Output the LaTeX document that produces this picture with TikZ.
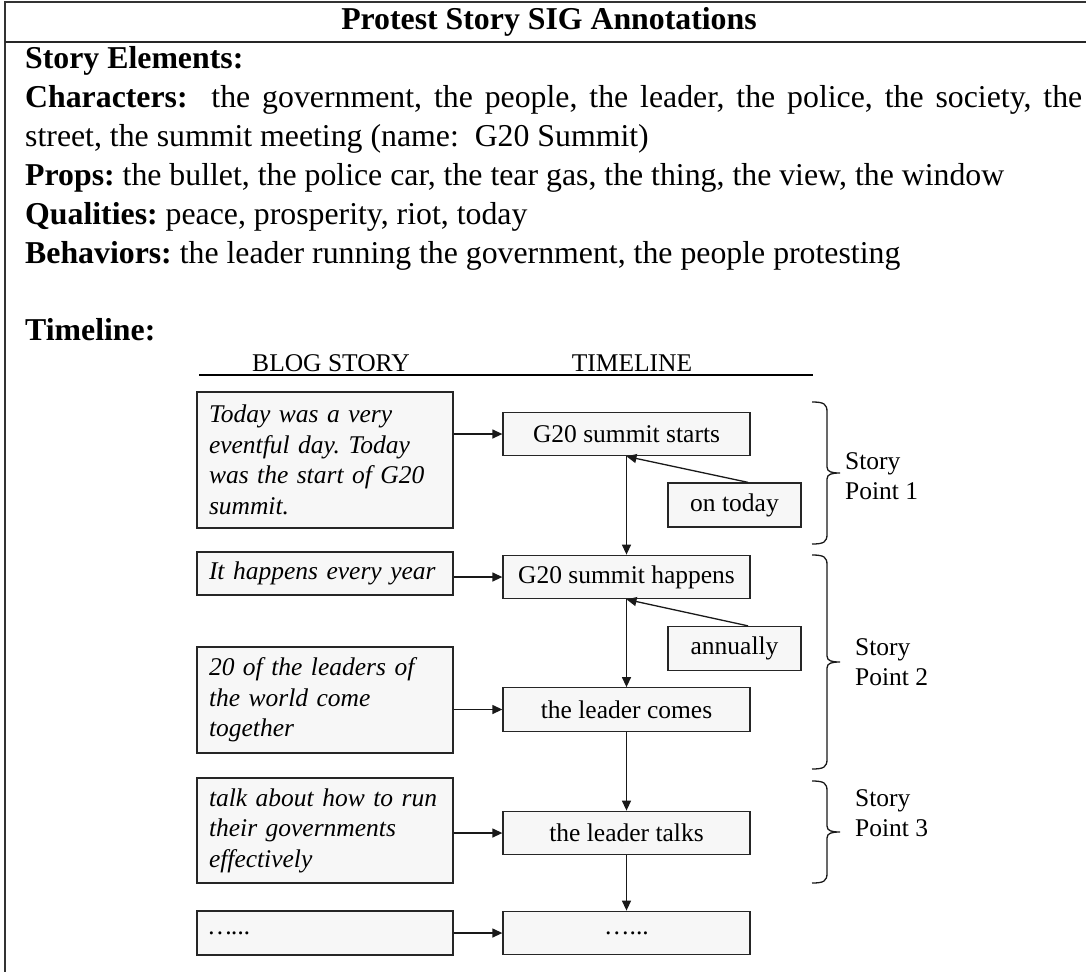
\documentclass[tikz,border=0pt]{standalone}
\usepackage{fontspec}
\setmainfont{Liberation Serif}
\usetikzlibrary{arrows.meta}
\frenchspacing

\newcommand{\bodysize}{\fontsize{31.8}{39}\selectfont}
\newcommand{\chartsize}{\fontsize{25.5}{30.5}\selectfont}

\begin{document}
\begin{tikzpicture}[x=1pt, y=-1pt, >={Triangle[length=10pt, width=9pt]},
    body/.style={anchor=base west, inner sep=0pt, font=\bodysize},
    event/.style={draw=black!85, fill=black!3, line width=1.3pt, inner sep=0pt,
        font=\chartsize, minimum width=247pt, minimum height=43.5pt},
    blog/.style={draw=black!85, fill=black!3, line width=1.3pt, inner xsep=12pt,
        inner ysep=0pt, text width=232pt, align=left, font=\chartsize\itshape},
    modifier/.style={event, minimum width=133pt, minimum height=44pt},
    link/.style={->, line width=1.3pt, black!90},
    spbrace/.style={line width=1.3pt, black!90},
    splabel/.style={anchor=west, inner sep=0pt, align=left, font=\chartsize}]

    \useasboundingbox (0,0) rectangle (1086,972);

    % =================================================================
    % 1. KHUNG BẢNG VÀ TIÊU ĐỀ
    % =================================================================
    \draw[line width=1.8pt, black!80] (1086,2) -- (5,2) -- (5,972);
    \draw[line width=1.8pt, black!85] (5,42) -- (1086,42);
    \node[anchor=base, inner sep=0pt, font=\bodysize\bfseries] (title) at (549,29)
        {Protest Story SIG Annotations};

    % =================================================================
    % 2. CÁC YẾU TỐ CÂU CHUYỆN
    % =================================================================
    \node[body] (elements) at (25,68) {\textbf{Story Elements:}};
    \node[body] (chars) at (25,107) {\makebox[1057pt][s]{\textbf{Characters:} \ the
        government, the people, the leader, the police, the society, the}};
    \node[body] (chars2) at (25,146) {street, the summit meeting (name:\ \ G20 Summit)};
    \node[body] (props) at (25,185) {\textbf{Props:} the bullet, the police car, the
        tear gas, the thing, the view, the window};
    \node[body] (quals) at (25,224) {\textbf{Qualities:} peace, prosperity, riot, today};
    \node[body] (behav) at (25,263) {\textbf{Behaviors:} the leader running the
        government, the people protesting};
    \node[body] (tline) at (25,340) {\textbf{Timeline:}};

    % =================================================================
    % 3. TIÊU ĐỀ HAI CỘT
    % =================================================================
    \node[anchor=base, inner sep=0pt, font=\chartsize] (hblog) at (331,371) {BLOG STORY};
    \node[anchor=base, inner sep=0pt, font=\chartsize] (htime) at (632,371) {TIMELINE};
    \draw[line width=2.5pt] (199,375) -- (813,375);

    % =================================================================
    % 4. CÁC Ô CÂU CHUYỆN VÀ Ô SỰ KIỆN
    % =================================================================
    \node[blog, minimum height=136pt] (b1) at (325,460)
        {Today was a very\\ eventful day. Today\\ was the start of G20\\ summit.};
    \node[blog, minimum height=43pt] (b2) at (325,573.5) {It happens every year};
    \node[blog, minimum height=106pt] (b3) at (325,700)
        {20 of the leaders of\\ the world come\\ together};
    \node[blog, minimum height=105pt] (b4) at (325,830.5)
        {talk about how to run\\ their governments\\ effectively};
    \node[blog, minimum height=44pt] (b5) at (325,933) {…...};

    \node[event] (t1) at (626.5,434) {G20 summit starts};
    \node[event] (t2) at (626.5,577) {G20 summit happens};
    \node[event] (t3) at (626.5,709.5) {the leader comes};
    \node[event] (t4) at (626.5,833) {the leader talks};
    \node[event] (t5) at (626.5,933) {…...};

    \node[modifier] (m1) at (734.5,505) {on today};
    \node[modifier] (m2) at (734.5,648.5) {annually};

    % =================================================================
    % 5. MŨI TÊN NỐI
    % =================================================================
    \foreach \i in {1,...,5}
        \draw[link] (b\i.east |- t\i) -- (t\i.west);
    \foreach \i/\j in {1/2, 2/3, 3/4, 4/5}
        \draw[link] (t\i.south) -- (t\j.north);
    \draw[link] ([xshift=13.5pt]m1.north) -- (t1.south);
    \draw[link] ([xshift=13.5pt]m2.north) -- (t2.south);

    % =================================================================
    % 6. NGOẶC NHỌN VÀ NHÃN STORY POINT
    % =================================================================
    % top / bottom / tip of each brace
    \foreach \t/\b/\m in {402/544/473, 555/769/662, 781/883/832}
        \draw[spbrace] (812,\t) .. controls (824,\t) and (827,\t+2) .. (827,\t+10)
            -- (827,\m-6) .. controls (827,\m-1) and (832,\m) .. (840,\m)
            .. controls (832,\m) and (827,\m+1) .. (827,\m+6)
            -- (827,\b-10) .. controls (827,\b-2) and (824,\b) .. (812,\b);
    \node[splabel] (sp1) at (845,476) {Story\\ Point 1};
    \node[splabel] (sp2) at (855,662) {Story\\ Point 2};
    \node[splabel] (sp3) at (855,813) {Story\\ Point 3};

\end{tikzpicture}
\end{document}
